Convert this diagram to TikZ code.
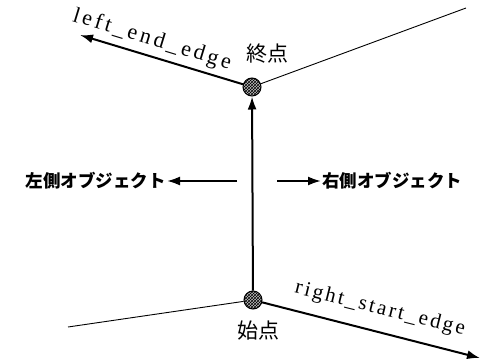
\documentclass[tikz,border=0pt]{standalone}
\usepackage{fontspec}
\setmainfont{Liberation Serif}
\newfontfamily\jp{Noto Sans CJK JP}
\usetikzlibrary{arrows.meta,patterns}
\begin{document}
\begin{tikzpicture}[x=1pt,y=-1pt,
  pt/.style={circle,draw,line width=1pt,minimum size=18pt,inner sep=0pt,fill=gray!50,postaction={pattern=crosshatch}},
  heavy/.style={line width=2pt},
  light/.style={line width=0.9pt},
  tip/.style={-{Latex[length=13pt,width=9pt]}},
  edgelbl/.style={font=\fontsize{21}{23}\selectfont\addfontfeatures{LetterSpace=12},inner sep=0pt},
  jplbl/.style={font=\jp\fontsize{21}{23}\selectfont,inner sep=0pt},
  objlbl/.style={font=\jp\bfseries\fontsize{17.5}{19}\selectfont,inner sep=1pt}]
\useasboundingbox (0,0) rectangle (484,361);
\fill[white] (0,0) rectangle (484,361);
\node[pt] (e) at (252,87) {};
\node[pt] (s) at (253,300) {};
\coordinate (le) at (80,35);
\coordinate (tr) at (466,8);
\coordinate (bl) at (68,327);
\coordinate (re) at (480,358);
\draw[heavy,tip] (s) -- (e);
\draw[heavy,tip] (e) -- (le);
\draw[light] (e) -- (tr);
\draw[light] (bl) -- (s);
\draw[heavy,tip] (s) -- (re);
\node[edgelbl,font=\fontsize{22}{24}\selectfont\addfontfeatures{LetterSpace=15},rotate=-17] (lel) at (152,40) {left\_end\_edge};
\node[edgelbl,rotate=-14] (rsl) at (380,309) {right\_start\_edge};
\node[jplbl] (el) at (267,54) {終点};
\node[jplbl] (sl) at (258,331) {始点};
\node[objlbl,anchor=east] (lo) at (167,181) {左側オブジェクト};
\node[objlbl,anchor=west] (ro) at (321,181) {右側オブジェクト};
\coordinate (la) at (237,181);
\coordinate (ra) at (277,181);
\draw[heavy,tip] (la) -- (lo.east);
\draw[heavy,tip] (ra) -- (ro.west);
\end{tikzpicture}
\end{document}
